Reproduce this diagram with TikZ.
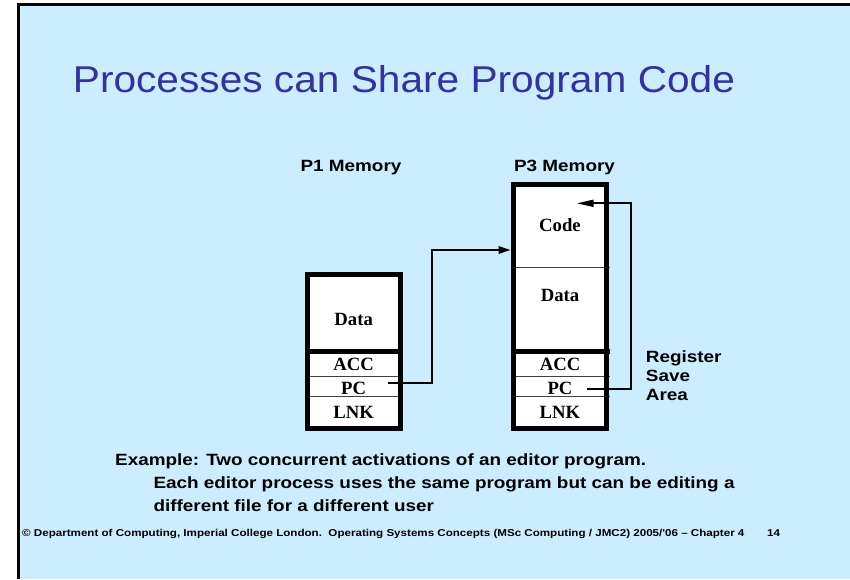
\documentclass[tikz,border=0pt]{standalone}
\usepackage{fontspec}
\setmainfont{Liberation Serif}
\newfontfamily\labelsans[FakeStretch=1.16]{Liberation Sans}
\newfontfamily\titlesans[FakeStretch=1.09]{Liberation Sans}
\usetikzlibrary{arrows.meta}
\definecolor{slidebg}{RGB}{204,236,255}
\definecolor{titleblue}{RGB}{51,51,153}
\tikzset{
  cell/.style={fill=white, draw=none, inner sep=0pt, minimum width=92.5pt},
  celltext/.style={inner sep=0pt, anchor=base, font=\fontsize{18.7}{20}\selectfont\bfseries},
  heading/.style={inner sep=0pt, anchor=base, font=\labelsans\fontsize{16.3}{18.8}\selectfont\bfseries},
  thin/.style={line width=1pt, draw=black!75},
  thick/.style={line width=4.5pt},
  conn/.style={line width=2pt},
  foot/.style={anchor=base west, inner sep=0pt, font=\labelsans\fontsize{10}{11}\selectfont\bfseries},
}
\begin{document}
\begin{tikzpicture}[x=1pt,y=-1pt]
\useasboundingbox (0,0) rectangle (850,579);
% slide background and frame
\fill[white] (0,0) rectangle (850,579);
\fill[slidebg] (20,5.5) rectangle (850,579);
\fill[black] (17,3) rectangle (20,579);
\fill[black] (17,3) rectangle (850,5.5);

% title
\node[anchor=base west, inner sep=0pt, text=titleblue,
      font=\titlesans\fontsize{37.3}{40}\selectfont] (title) at (72.7,92.5)
      {Processes can Share Program Code};

% memory headings
\node[heading] (p1head) at (351,171.7) {P1 Memory};
\node[heading] (p3head) at (564.5,171.7) {P3 Memory};

% P1 memory cells
\node[cell, minimum height=76.75pt] (p1data) at (354.1,313.3) {};
\node[cell, minimum height=25pt]    (p1acc)  at (354.1,364.2) {};
\node[cell, minimum height=19.8pt]  (p1pc)   at (354.1,386.6) {};
\node[cell, minimum height=31.95pt] (p1lnk)  at (354.1,412.5) {};
% P3 memory cells
\node[cell, minimum height=82.8pt]  (p3code) at (560,225.9) {};
\node[cell, minimum height=84.4pt]  (p3data) at (560,309.5) {};
\node[cell, minimum height=25pt]    (p3acc)  at (560,364.2) {};
\node[cell, minimum height=19.8pt]  (p3pc)   at (560,386.6) {};
\node[cell, minimum height=31.95pt] (p3lnk)  at (560,412.5) {};

% thin dividers
\draw[thin] (305.5,376.7) -- (402.7,376.7);
\draw[thin] (305.5,396.5) -- (402.7,396.5);
\draw[thin] (511.7,267.3) -- (609.5,267.3);
\draw[thin] (511.7,376.7) -- (609.5,376.7);
\draw[thin] (511.7,396.5) -- (609.5,396.5);
% register area separators
\draw[thick] (305.5,351.7) -- (402.7,351.7);
\draw[thick] (511.7,351.7) -- (609.5,351.7);
% outer frames
\draw[thick] (p1data.north west) rectangle (p1lnk.south east);
\draw[thick] (p3code.north west) rectangle (p3lnk.south east);

% cell texts
\node[celltext] (t1data) at (353.7,325)   {Data};
\node[celltext] (t1acc)  at (353.7,370.7) {ACC};
\node[celltext] (t1pc)   at (353.7,394)   {PC};
\node[celltext] (t1lnk)  at (353.7,418.3) {LNK};
\node[celltext] (t3code) at (560,231.7)   {Code};
\node[celltext] (t3data) at (560,301.7)   {Data};
\node[celltext] (t3acc)  at (560,370.7)   {ACC};
\node[celltext] (t3pc)   at (560,394)     {PC};
\node[celltext] (t3lnk)  at (560,418.3)   {LNK};

% program counter pointers
\coordinate (p1pcout) at (388.3,382.5);
\coordinate (p3entry) at (510.5,250);
\coordinate (p3pcout) at (586.7,389);
\coordinate (p3next)  at (576.7,203.3);
\draw[conn, -{Triangle[length=12pt,width=7.5pt]}]
  (p1pcout) -| (431.7,250) -- (p3entry);
\draw[conn, -{Triangle[length=17pt,width=7pt]}]
  (p3pcout) -| (630.7,203.3) -- (p3next);

% register save area label
\node[anchor=north west, inner sep=0pt, align=left,
      font=\labelsans\fontsize{16.3}{18.8}\selectfont\bfseries] (regarea)
      at (645.7,350.5) {Register\\Save\\Area};

% example text
\node[anchor=north west, inner sep=0pt, align=left,
      font=\labelsans\fontsize{16.3}{23.3}\selectfont\bfseries] (example)
      at (115,453.3)
      {Example: Two concurrent activations of an editor program.\\
       \hspace*{38.3pt}Each editor process uses the same program but can be editing a\\
       \hspace*{38.3pt}different file for a different user};

% footer
\node[foot] (footer) at (22,536)
      {© Department of Computing, Imperial College London.\ \ Operating Systems Concepts (MSc Computing / JMC2) 2005/'06 – Chapter 4};
\node[foot] (pageno) at (767,536) {14};
\end{tikzpicture}
\end{document}
